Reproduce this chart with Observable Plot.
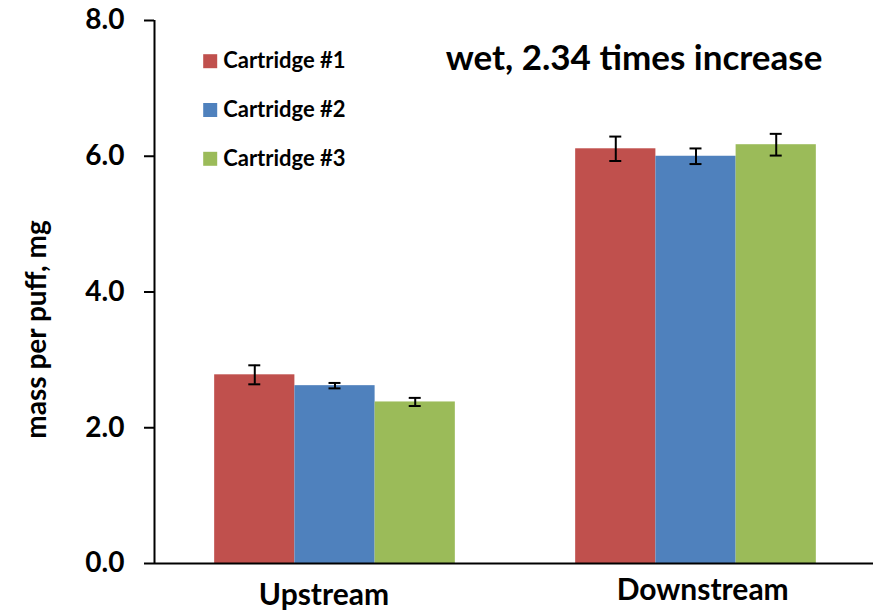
<!DOCTYPE html>
<html><head><meta charset="utf-8">
<script src="https://cdn.jsdelivr.net/npm/d3@7"></script>
<script src="https://cdn.jsdelivr.net/npm/@observablehq/plot@0.6"></script>
<style>body{margin:0;background:#fff}</style>
</head><body><div id="chart"></div>
<script>
const groups = ["Upstream", "Downstream"];
const series = ["Cartridge #1", "Cartridge #2", "Cartridge #3"];
const colors = ["#C0504D", "#4F81BD", "#9BBB59"];
const cart1 = [2.78, 6.11];
const cart1Err = [0.14, 0.18];
const cart2 = [2.62, 6.00];
const cart2Err = [0.04, 0.115];
const cart3 = [2.38, 6.17];
const cart3Err = [0.06, 0.16];
const yTicks = [0, 2, 4, 6, 8];
const yLabel = "mass per puff, mg";
const title = "wet, 2.34 times increase";

const values = [cart1, cart2, cart3];
const errors = [cart1Err, cart2Err, cart3Err];
const rows = [];
groups.forEach((g, gi) => series.forEach((s, si) =>
  rows.push({group: g, gi, series: s, si, value: values[si][gi], err: errors[si][gi]})));

const xDomain = [-0.5, 1.5];
const groupWidth = 2 / 3, barW = groupWidth / 3;
const left = d => d.gi - groupWidth / 2 + d.si * barW;
const mid = d => left(d) + barW / 2;
const cap = 0.0166;
const font = "Lato, sans-serif";
const bold = {fontFamily: font, fontWeight: "bold", fill: "black"};

const legendMarks = series.flatMap((s, i) => [
  Plot.dot([s], {frameAnchor: "top-left", dx: 55.7, dy: 40.7 + i * 48.8, symbol: "square", r: 7.9, fill: d => d, stroke: null}),
  Plot.text([s], {frameAnchor: "top-left", dx: 68.7, dy: 47.8 + i * 48.8, text: d => d, textAnchor: "start", lineAnchor: "bottom", fontSize: 22, ...bold})
]);
const xLabelOffsets = [[-11, 41.3], [6.7, 36.3]];
const xLabelMarks = groups.map((g, i) =>
  Plot.text([g], {x: [i], frameAnchor: "bottom", dx: xLabelOffsets[i][0], dy: xLabelOffsets[i][1], text: d => d, textAnchor: "middle", lineAnchor: "bottom", fontSize: 30, ...bold}));

const chart = Plot.plot({
  width: 873, height: 615,
  marginLeft: 154, marginRight: -3, marginTop: 20, marginBottom: 52,
  x: {type: "linear", domain: xDomain, axis: null},
  y: {domain: [0, 8], axis: null},
  color: {domain: series, range: colors},
  style: {fontFamily: font, background: "white", overflow: "visible"},
  marks: [
    Plot.rectY(rows, {x1: left, x2: d => left(d) + barW, y1: 0, y2: "value", fill: "series"}),
    Plot.ruleX(rows, {x: mid, y1: d => d.value - d.err, y2: d => d.value + d.err, stroke: "black", strokeWidth: 2}),
    Plot.ruleY(rows, {x1: d => mid(d) - cap, x2: d => mid(d) + cap, y: d => d.value + d.err, stroke: "black", strokeWidth: 2}),
    Plot.ruleY(rows, {x1: d => mid(d) - cap, x2: d => mid(d) + cap, y: d => d.value - d.err, stroke: "black", strokeWidth: 2}),
    Plot.axisY(yTicks, {tickSize: 10, tickPadding: 20, tickFormat: d => d.toFixed(1), fontSize: 28, fontWeight: "bold", fontFamily: font, stroke: "black", strokeWidth: 2, strokeOpacity: 1, label: null, color: "black"}),
    Plot.ruleX([xDomain[0]], {stroke: "black", strokeWidth: 2}),
    Plot.ruleY([0], {stroke: "black", strokeWidth: 2}),
    Plot.text([yLabel], {frameAnchor: "left", dx: -109, dy: 37.5, rotate: -90, text: d => d, textAnchor: "middle", lineAnchor: "bottom", fontSize: 28, ...bold}),
    Plot.text([title], {frameAnchor: "top-left", dx: 479.5, dy: 49, text: d => d, textAnchor: "middle", lineAnchor: "bottom", fontSize: 35, ...bold}),
    ...legendMarks,
    ...xLabelMarks
  ]
});
document.getElementById("chart").append(chart);
</script>
</body></html>
